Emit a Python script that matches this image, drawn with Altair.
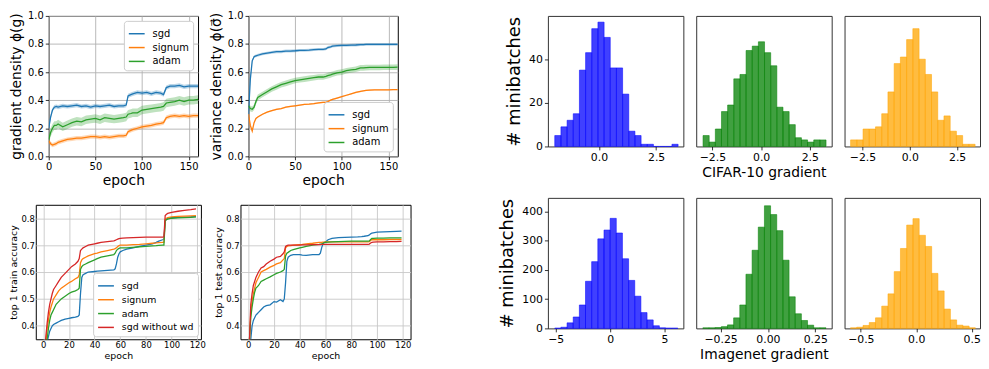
import altair as alt
import numpy as np
import pandas as pd

FONT = "DejaVu Sans"

OPTS3 = ["sgd", "signum", "adam"]
OPTS4 = ["sgd", "signum", "adam", "sgd without wd"]
COLORS4 = ["#1f77b4", "#ff7f0e", "#2ca02c", "#d62728"]

# ---------------- top-left panels (density vs epoch) ----------------
EPOCH_TOP = [0, 2, 4, 6, 8, 10, 15, 20, 25, 30, 35, 40, 45, 50, 55, 60, 65, 70, 75, 80,
             83, 85, 88, 90, 95, 100, 105, 110, 115, 120, 123, 126, 130, 135, 140, 145, 150, 155, 160]
GRAD_SGD = [0.20, 0.28, 0.33, 0.35, 0.355, 0.35, 0.36, 0.355, 0.36, 0.365, 0.355, 0.36, 0.35, 0.36,
            0.355, 0.36, 0.365, 0.355, 0.36, 0.36, 0.365, 0.43, 0.44, 0.445, 0.455, 0.45, 0.455,
            0.445, 0.455, 0.45, 0.44, 0.49, 0.50, 0.50, 0.505, 0.495, 0.50, 0.50, 0.50]
GRAD_SIGNUM = [0.11, 0.09, 0.08, 0.085, 0.09, 0.10, 0.11, 0.12, 0.125, 0.13, 0.13, 0.135, 0.14, 0.14,
               0.135, 0.14, 0.135, 0.14, 0.145, 0.145, 0.15, 0.175, 0.185, 0.19, 0.20, 0.21, 0.215,
               0.22, 0.23, 0.235, 0.24, 0.275, 0.285, 0.29, 0.285, 0.29, 0.285, 0.29, 0.29]
GRAD_ADAM = [0.12, 0.17, 0.20, 0.22, 0.22, 0.23, 0.21, 0.225, 0.24, 0.25, 0.245, 0.26, 0.265, 0.27,
             0.26, 0.275, 0.27, 0.265, 0.27, 0.275, 0.28, 0.30, 0.305, 0.31, 0.31, 0.33, 0.335,
             0.34, 0.345, 0.35, 0.355, 0.38, 0.385, 0.39, 0.40, 0.39, 0.40, 0.40, 0.405]
GRAD_BAND = [0.015, 0.015, 0.03]

VAR_SGD = [0.30, 0.55, 0.68, 0.71, 0.715, 0.72, 0.73, 0.735, 0.74, 0.745, 0.745, 0.75, 0.75, 0.752,
           0.755, 0.755, 0.757, 0.76, 0.762, 0.762, 0.765, 0.775, 0.78, 0.785, 0.788, 0.79, 0.79,
           0.792, 0.793, 0.795, 0.795, 0.797, 0.797, 0.797, 0.797, 0.797, 0.797, 0.797, 0.797]
VAR_SIGNUM = [0.30, 0.22, 0.18, 0.24, 0.27, 0.28, 0.30, 0.315, 0.325, 0.335, 0.34, 0.35, 0.355, 0.36,
              0.365, 0.37, 0.372, 0.375, 0.38, 0.385, 0.385, 0.39, 0.40, 0.405, 0.415, 0.425, 0.435,
              0.445, 0.455, 0.462, 0.466, 0.47, 0.472, 0.473, 0.473, 0.474, 0.474, 0.475, 0.475]
VAR_ADAM = [0.36, 0.34, 0.335, 0.35, 0.39, 0.42, 0.44, 0.46, 0.48, 0.495, 0.51, 0.52, 0.53, 0.54,
            0.545, 0.55, 0.555, 0.56, 0.565, 0.565, 0.57, 0.575, 0.58, 0.585, 0.595, 0.60, 0.61,
            0.615, 0.62, 0.63, 0.63, 0.632, 0.633, 0.633, 0.633, 0.634, 0.634, 0.634, 0.635]
VAR_BAND = [0.01, 0.005, 0.02]

# ---------------- bottom-left panels (accuracy vs epoch) ----------------
EPOCH_BOT = [0, 1, 2, 3, 4, 5, 6, 7, 8, 10, 12, 14, 17, 20, 22, 25, 27, 28, 29, 30, 31, 33, 35,
             40, 42, 45, 50, 55, 56, 57, 58, 59, 60, 62, 65, 70, 75, 80, 85, 88, 90, 93, 94, 95,
             96, 97, 100, 105, 110, 115, 119]
TRAIN_SGD = [0.20, 0.25, 0.30, 0.34, 0.36, 0.38, 0.39, 0.40, 0.405,
             0.41, 0.415, 0.42, 0.425, 0.428, 0.43, 0.432, 0.435, 0.44, 0.52, 0.58, 0.59, 0.595, 0.60,
             0.602, 0.603, 0.604, 0.606, 0.608, 0.612, 0.63, 0.655, 0.668, 0.675, 0.68, 0.685,
             0.69, 0.695, 0.70, 0.705, 0.71, 0.715, 0.72, 0.722, 0.79, 0.797, 0.80,
             0.802, 0.803, 0.804, 0.805, 0.806]
TRAIN_SIGNUM = [0.20, 0.27, 0.34, 0.39, 0.42, 0.45, 0.47, 0.485, 0.50,
                0.515, 0.53, 0.54, 0.55, 0.56, 0.565, 0.575, 0.58, 0.59, 0.635, 0.645, 0.65, 0.655, 0.66,
                0.668, 0.67, 0.675, 0.68, 0.685, 0.687, 0.69, 0.695, 0.698, 0.70, 0.70, 0.70,
                0.702, 0.703, 0.705, 0.707, 0.708, 0.709, 0.71, 0.71, 0.795, 0.80, 0.802,
                0.805, 0.807, 0.808, 0.809, 0.81]
TRAIN_ADAM = [0.18, 0.24, 0.30, 0.35, 0.39, 0.42, 0.44, 0.45, 0.46,
              0.48, 0.49, 0.50, 0.51, 0.52, 0.525, 0.53, 0.535, 0.54, 0.61, 0.62, 0.625, 0.63, 0.635,
              0.645, 0.65, 0.655, 0.66, 0.665, 0.67, 0.68, 0.685, 0.688, 0.69, 0.69, 0.69,
              0.692, 0.694, 0.695, 0.697, 0.698, 0.699, 0.70, 0.70, 0.79, 0.795, 0.797,
              0.80, 0.801, 0.802, 0.803, 0.805]
TRAIN_NOWD = [0.22, 0.30, 0.36, 0.41, 0.45, 0.48, 0.50, 0.52, 0.535,
              0.55, 0.565, 0.58, 0.595, 0.61, 0.62, 0.63, 0.64, 0.65, 0.68, 0.685, 0.69, 0.695, 0.70,
              0.705, 0.707, 0.71, 0.713, 0.716, 0.718, 0.72, 0.722, 0.724, 0.725, 0.726, 0.727,
              0.728, 0.729, 0.73, 0.73, 0.73, 0.73, 0.73, 0.731, 0.81, 0.815, 0.818,
              0.822, 0.826, 0.829, 0.832, 0.835]
TEST_SGD = [0.25, 0.30, 0.35, 0.40, 0.42, 0.43, 0.44, 0.445, 0.45,
            0.46, 0.47, 0.475, 0.478, 0.49, 0.488, 0.497, 0.49, 0.50, 0.56, 0.64, 0.655, 0.662, 0.665,
            0.665, 0.663, 0.662, 0.665, 0.665, 0.67, 0.69, 0.705, 0.71, 0.712, 0.72, 0.725,
            0.728, 0.729, 0.73, 0.731, 0.732, 0.733, 0.735, 0.738, 0.742, 0.745, 0.746,
            0.748, 0.749, 0.75, 0.751, 0.752]
TEST_SIGNUM = [0.25, 0.35, 0.45, 0.49, 0.52, 0.54, 0.56, 0.57, 0.58,
               0.60, 0.605, 0.61, 0.618, 0.625, 0.63, 0.635, 0.645, 0.65, 0.69, 0.695, 0.697, 0.698, 0.70,
               0.702, 0.703, 0.705, 0.707, 0.71, 0.71, 0.71, 0.711, 0.711, 0.712, 0.712, 0.712,
               0.712, 0.712, 0.712, 0.712, 0.712, 0.712, 0.712, 0.713, 0.717, 0.72, 0.72,
               0.72, 0.72, 0.721, 0.721, 0.721]
TEST_ADAM = [0.25, 0.35, 0.43, 0.47, 0.50, 0.525, 0.54, 0.545, 0.55,
             0.565, 0.57, 0.575, 0.582, 0.59, 0.595, 0.60, 0.605, 0.61, 0.66, 0.67, 0.673, 0.68, 0.683,
             0.69, 0.692, 0.695, 0.70, 0.703, 0.704, 0.705, 0.707, 0.709, 0.71, 0.711, 0.712,
             0.713, 0.714, 0.715, 0.715, 0.715, 0.715, 0.715, 0.716, 0.721, 0.725, 0.725,
             0.726, 0.726, 0.727, 0.727, 0.727]
TEST_NOWD = [0.28, 0.35, 0.48, 0.52, 0.55, 0.565, 0.58, 0.59, 0.60,
             0.615, 0.62, 0.63, 0.64, 0.648, 0.655, 0.658, 0.668, 0.675, 0.695, 0.698, 0.70, 0.70, 0.70,
             0.70, 0.701, 0.701, 0.702, 0.702, 0.702, 0.703, 0.703, 0.703, 0.703, 0.703, 0.703,
             0.703, 0.703, 0.703, 0.703, 0.703, 0.703, 0.703, 0.704, 0.708, 0.71, 0.711,
             0.712, 0.712, 0.713, 0.713, 0.714]

# ---------------- histograms (20 bins each) ----------------
CIFAR_SGD_RANGE = [-1.93, 3.46]
CIFAR_SGD_COUNTS = [5, 9, 12, 15, 35, 43, 54, 57, 50, 36, 36, 24, 7, 5, 1, 1, 0, 0, 0, 1]
CIFAR_ADAM_RANGE = [-2.98, 3.33]
CIFAR_ADAM_COUNTS = [5, 2, 8, 16, 19, 31, 33, 44, 46, 48, 43, 37, 18, 16, 10, 4, 3, 2, 3, 3]
CIFAR_SIGNUM_RANGE = [-3.13, 3.45]
CIFAR_SIGNUM_COUNTS = [3, 3, 8, 8, 9, 15, 25, 38, 41, 49, 54, 40, 33, 25, 12, 14, 7, 5, 1, 1]
IMNET_SGD_RANGE = [-5.09, 6.23]
IMNET_SGD_COUNTS = [1, 4, 19, 39, 80, 161, 228, 306, 336, 376, 326, 238, 164, 110, 54, 29, 9, 2, 1, 1]
IMNET_ADAM_RANGE = [-0.344, 0.307]
IMNET_ADAM_COUNTS = [2, 2, 3, 6, 12, 36, 80, 185, 267, 346, 419, 389, 334, 233, 108, 50, 27, 11, 2, 2]
IMNET_SIGNUM_RANGE = [-0.593, 0.533]
IMNET_SIGNUM_COUNTS = [2, 4, 10, 20, 36, 76, 118, 194, 273, 353, 375, 318, 280, 188, 128, 66, 29, 11, 8, 2]


def axis(values, fmt, title, label_fs, title_fs, grid, grid_color="#b0b0b0", title_pad=3,
         tick=3.5, label_pad=2):
    kw = dict(values=values, format=fmt, labelFontSize=label_fs, grid=grid, tickSize=tick,
              ticks=tick > 0, tickWidth=0.8, labelPadding=label_pad, titlePadding=title_pad,
              labelFlush=False, labelOverlap=False)
    if title:
        kw.update(title=title, titleFontSize=title_fs)
    else:
        kw.update(title=None)
    if grid:
        kw.update(gridColor=grid_color, gridWidth=0.9)
    return alt.Axis(**kw)


def legend(orient, offset, fs):
    return alt.Legend(orient=orient, offset=offset, title=None, fillColor="white",
                      strokeColor="#cccccc", cornerRadius=3, padding=4, labelFontSize=fs,
                      labelFont=FONT, symbolType="stroke", symbolSize=256, symbolStrokeWidth=1.5,
                      rowPadding=0, labelOffset=7, labelColor="black")


def long_df(epochs, names, series, bands=None):
    rows = []
    for k, (name, vals) in enumerate(zip(names, series)):
        assert len(vals) == len(epochs), name
        for e, v in zip(epochs, vals):
            r = {"epoch": e, "value": v, "opt": name}
            if bands is not None:
                r["lo"] = v - bands[k]
                r["hi"] = v + bands[k]
            rows.append(r)
    return pd.DataFrame(rows)


def line_panel(df, names, xdom, xticks, ydom, yticks, ytitle, w, h, tick_fs, title_fs,
               leg, band, grid_color, title_pad, tick, label_pad, xtitle_pad):
    xax = axis(xticks, "d", "epoch", tick_fs, title_fs, True, grid_color, xtitle_pad, tick, label_pad)
    yax = axis(yticks, ".1f", ytitle, tick_fs, title_fs, True, grid_color, title_pad, tick, label_pad)
    xs = alt.Scale(domain=xdom, nice=False, zero=False)
    ys = alt.Scale(domain=ydom, nice=False, zero=False)
    cs = alt.Scale(domain=names, range=COLORS4[:len(names)])
    layers = []
    if band:
        for name, col in zip(names, COLORS4):
            layers.append(
                alt.Chart(df[df["opt"] == name]).mark_area(opacity=0.3, clip=True, color=col).encode(
                    x=alt.X("epoch:Q", scale=xs, axis=xax),
                    y=alt.Y("lo:Q", scale=ys, axis=yax),
                    y2="hi:Q",
                )
            )
    line = alt.Chart(df).mark_line(strokeWidth=1.3, clip=True).encode(
        x=alt.X("epoch:Q", scale=xs, axis=xax),
        y=alt.Y("value:Q", scale=ys, axis=yax),
        color=alt.Color("opt:N", scale=cs, sort=names, legend=leg),
    )
    layers.append(line)
    return alt.layer(*layers).properties(
        width=w, height=h, view=alt.ViewBackground(stroke="black", strokeWidth=1))


def hist_panel(rng, counts, color, xdom, xticks, xfmt, ydom, yticks, ytitle, xtitle, w, h):
    edges = np.linspace(rng[0], rng[1], len(counts) + 1)
    df = pd.DataFrame({"x0": edges[:-1], "x1": edges[1:], "n": counts, "z": 0})
    xax = axis(xticks, xfmt, xtitle, 11, 14, False, title_pad=3)
    if yticks is not None:
        yax = axis(yticks, "d", ytitle, 11, 18, False, title_pad=5)
    else:
        yax = None
    return alt.Chart(df).mark_rect(fill=color, fillOpacity=0.75, stroke=color,
                                   strokeOpacity=0.75, strokeWidth=0.7).encode(
        x=alt.X("x0:Q", scale=alt.Scale(domain=xdom, nice=False, zero=False), axis=xax),
        x2="x1:Q",
        y=alt.Y("n:Q", scale=alt.Scale(domain=ydom, nice=False, zero=False), axis=yax),
        y2="z:Q",
    ).properties(width=w, height=h, view=alt.ViewBackground(stroke="#333333", strokeWidth=1))


# ---- build panels
df_grad = long_df(EPOCH_TOP, OPTS3, [GRAD_SGD, GRAD_SIGNUM, GRAD_ADAM], GRAD_BAND)
df_var = long_df(EPOCH_TOP, OPTS3, [VAR_SGD, VAR_SIGNUM, VAR_ADAM], VAR_BAND)
df_train = long_df(EPOCH_BOT, OPTS4, [TRAIN_SGD, TRAIN_SIGNUM, TRAIN_ADAM, TRAIN_NOWD])
df_test = long_df(EPOCH_BOT, OPTS4, [TEST_SGD, TEST_SIGNUM, TEST_ADAM, TEST_NOWD])

TOP_W, TOP_H = 151, 142
yt01 = [0.0, 0.2, 0.4, 0.6, 0.8, 1.0]
pA = line_panel(df_grad, OPTS3, [0, 160], [0, 50, 100, 150], [0, 1], yt01,
                "gradient density ϕ(g)", TOP_W, TOP_H, 10, 14,
                legend("top-right", 5, 10), True, "#b0b0b0", 4, 3.5, 2, 2)
pB = line_panel(df_var, OPTS3, [0, 160], [0, 50, 100, 150], [0, 1], yt01,
                "variance density ϕ(σ⃗)", TOP_W, TOP_H, 10, 14,
                legend("bottom-right", 5, 10), True, "#b0b0b0", 4, 3.5, 2, 2)

BOT_H = 136
accy = [0.4, 0.5, 0.6, 0.7, 0.8]
ept = [0, 20, 40, 60, 80, 100, 120]
pC = line_panel(df_train, OPTS4, [-5.85, 122.85], ept, [0.35, 0.85], accy,
                "top 1 train accuracy", 167, BOT_H, 8.5, 9.5,
                legend("bottom-right", 3, 9.5), False, "#c8c8c8", 2, 0, 1.5, 1)
pD = line_panel(df_test, OPTS4, [-6, 126], ept, [0.35, 0.85], accy,
                "top 1 test accuracy", 172, BOT_H, 8.5, 9.5,
                None, False, "#c8c8c8", 2, 0, 1.5, 1)

HW, HH = 137, 132
TOP_Y = [0, 59.85]
BOT_Y = [0, 446]
BLUE, GREEN, ORANGE = "#0000ff", "#008000", "#ffa500"
h1 = hist_panel(CIFAR_SGD_RANGE, CIFAR_SGD_COUNTS, BLUE, [-2.23, 3.69], [0.0, 2.5], ".1f",
                TOP_Y, [0, 20, 40, 60], "# minibatches", None, HW, HH)
h2 = hist_panel(CIFAR_ADAM_RANGE, CIFAR_ADAM_COUNTS, GREEN, [-3.33, 3.62], [-2.5, 0.0, 2.5], ".1f",
                TOP_Y, None, None, "CIFAR-10 gradient", HW, HH)
h3 = hist_panel(CIFAR_SIGNUM_RANGE, CIFAR_SIGNUM_COUNTS, ORANGE, [-3.45, 3.71], [-2.5, 0.0, 2.5], ".1f",
                TOP_Y, None, None, None, HW, HH)
h4 = hist_panel(IMNET_SGD_RANGE, IMNET_SGD_COUNTS, BLUE, [-5.72, 6.74], [-5, 0, 5], "d",
                BOT_Y, [0, 100, 200, 300, 400], "# minibatches", None, HW, HH)
h5 = hist_panel(IMNET_ADAM_RANGE, IMNET_ADAM_COUNTS, GREEN, [-0.379, 0.337], [-0.25, 0.0, 0.25], ".2f",
                BOT_Y, None, None, "Imagenet gradient", HW, HH)
h6 = hist_panel(IMNET_SIGNUM_RANGE, IMNET_SIGNUM_COUNTS, ORANGE, [-0.647, 0.575], [-0.5, 0.0, 0.5], ".1f",
                BOT_Y, None, None, None, HW, HH)

IND = dict(color="independent", x="independent", y="independent")
rowAB = alt.hconcat(pA, pB, spacing=10).resolve_scale(**IND).resolve_legend(color="independent")
rowCD = alt.hconcat(pC, pD, spacing=7).resolve_scale(**IND).resolve_legend(color="independent")
left = alt.vconcat(rowAB, rowCD, spacing=16, center=True).resolve_scale(**IND).resolve_legend(
    color="independent")
right = alt.vconcat(
    alt.hconcat(h1, h2, h3, spacing=11).resolve_scale(x="independent", y="independent"),
    alt.hconcat(h4, h5, h6, spacing=11).resolve_scale(x="independent", y="independent"),
    spacing=17,
).resolve_scale(x="independent", y="independent")

chart = alt.hconcat(left, right, spacing=88).resolve_scale(**IND).resolve_legend(
    color="independent").properties(
    padding={"left": 0, "top": 0, "right": 0, "bottom": 0}
).configure(font=FONT).configure_axis(
    labelFont=FONT, titleFont=FONT, labelColor="black", titleColor="black",
    tickColor="black", domain=False, titleFontWeight="normal",
).configure_legend(labelFont=FONT, labelColor="black")

chart.save("out.html", embed_options={"renderer": "svg", "actions": False})
